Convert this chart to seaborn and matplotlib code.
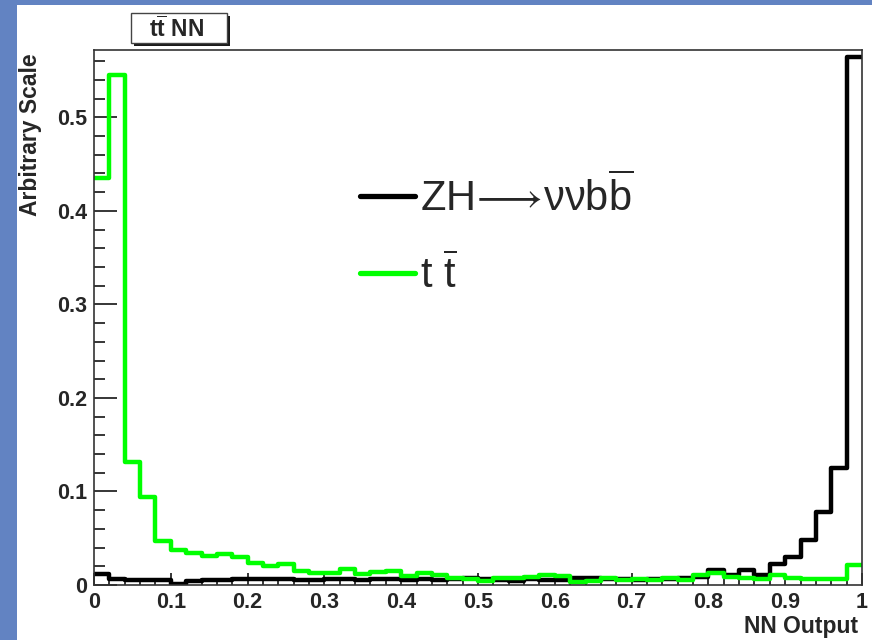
import numpy as np
import pandas as pd
import matplotlib
matplotlib.use("Agg")
import matplotlib.pyplot as plt
import seaborn as sns
from matplotlib.patches import Rectangle
from matplotlib.lines import Line2D
from matplotlib.ticker import MultipleLocator

# ---------------- data ----------------
n_bins = 50
x_range = (0.0, 1.0)

zh_values = [0.012, 0.006, 0.005, 0.005, 0.005, 0.001, 0.004, 0.005, 0.005, 0.006,
             0.006, 0.006, 0.006, 0.005, 0.005, 0.006, 0.006, 0.005, 0.006, 0.006,
             0.005, 0.006, 0.005, 0.006, 0.007, 0.006, 0.005, 0.004, 0.006, 0.005,
             0.005, 0.007, 0.007, 0.006, 0.006, 0.005, 0.006, 0.006, 0.008, 0.009,
             0.016, 0.011, 0.016, 0.011, 0.022, 0.030, 0.048, 0.078, 0.125, 0.565]

tt_values = [0.435, 0.545, 0.131, 0.094, 0.047, 0.037, 0.034, 0.031, 0.033, 0.030,
             0.024, 0.020, 0.022, 0.015, 0.013, 0.013, 0.017, 0.012, 0.014, 0.015,
             0.010, 0.013, 0.011, 0.008, 0.006, 0.004, 0.007, 0.008, 0.009, 0.011,
             0.010, 0.003, 0.004, 0.008, 0.005, 0.006, 0.005, 0.007, 0.005, 0.011,
             0.013, 0.009, 0.008, 0.006, 0.011, 0.008, 0.006, 0.006, 0.006, 0.021]

series_labels = [r"$\mathrm{ZH}\!\longrightarrow\!\nu\nu\mathrm{b}\overline{\mathrm{b}}$",
                 r"$\mathrm{t}\ \overline{\mathrm{t}}$"]
series_colors = ["#000000", "#00ff00"]

x_ticks = [0.0, 0.1, 0.2, 0.3, 0.4, 0.5, 0.6, 0.7, 0.8, 0.9, 1.0]
x_tick_labels = ["0", "0.1", "0.2", "0.3", "0.4", "0.5", "0.6", "0.7", "0.8", "0.9", "1"]
y_ticks = [0.0, 0.1, 0.2, 0.3, 0.4, 0.5]
y_tick_labels = ["0", "0.1", "0.2", "0.3", "0.4", "0.5"]

title_text = r"$\mathbf{t\overline{t}}$ $\mathbf{NN}$"
x_title = "NN Output"
y_title = "Arbitrary Scale"

# ---------------- style ----------------
sns.set_theme(style="ticks")
plt.rcParams["font.family"] = ["Liberation Sans", "DejaVu Sans"]
plt.rcParams["mathtext.fontset"] = "custom"
plt.rcParams["mathtext.rm"] = "Liberation Sans"
plt.rcParams["mathtext.it"] = "Liberation Sans"
plt.rcParams["mathtext.bf"] = "Liberation Sans:bold"

W, H = 872, 640
fig = plt.figure(figsize=(W / 100, H / 100), dpi=100)
fig.patch.set_facecolor("#6283c2")

# white slide area
fig.add_artist(Rectangle((17 / W, 0), 1 - 17 / W, 1 - 5 / H, transform=fig.transFigure,
                         facecolor="white", edgecolor="none", zorder=0))

ax = fig.add_axes([94 / W, 1 - 585 / H, (862 - 94) / W, (585 - 50) / H])
ax.set_facecolor("white")

width = (x_range[1] - x_range[0]) / n_bins
centers = x_range[0] + width * (np.arange(n_bins) + 0.5)
df = pd.DataFrame({
    "x": np.concatenate([centers, centers]),
    "w": np.concatenate([zh_values, tt_values]),
    "sample": ["ZH"] * n_bins + ["tt"] * n_bins,
})

for name, color in zip(["ZH", "tt"], series_colors):
    sns.histplot(data=df[df["sample"] == name], x="x", weights="w", bins=n_bins,
                 binrange=x_range, element="step", fill=False, color=color,
                 linewidth=3.2, ax=ax)

ax.set_xlim(0, 1)
ax.set_ylim(0, 0.572)
ax.set_xlabel("")
ax.set_ylabel("")

ax.set_xticks(x_ticks, labels=x_tick_labels)
ax.set_yticks(y_ticks, labels=y_tick_labels)
ax.xaxis.set_minor_locator(MultipleLocator(0.02))
ax.yaxis.set_minor_locator(MultipleLocator(0.02))
for lab in ax.get_xticklabels() + ax.get_yticklabels():
    lab.set_fontweight("bold")
    lab.set_fontsize(15.5)
ax.tick_params(axis="y", which="major", direction="in", length=16.5, width=1.1, pad=5, color="black")
ax.tick_params(axis="y", which="minor", direction="in", length=8, width=1.1, color="black")
ax.tick_params(axis="x", which="major", direction="in", length=8.5, width=1.1, pad=5, color="black")
ax.tick_params(axis="x", which="minor", direction="in", length=4.3, width=1.1, color="black")
for s in ax.spines.values():
    s.set_visible(True)
    s.set_color("#333333")
    s.set_linewidth(1.2)

# legend
handles = [Line2D([], [], color=c, linewidth=3.8) for c in series_colors]
leg = ax.legend(handles, series_labels, loc="upper left",
                bbox_to_anchor=(360 / W, 1 - 174 / H), bbox_transform=fig.transFigure,
                frameon=False, fontsize=30, handlelength=1.32, handletextpad=0.12,
                borderpad=0, borderaxespad=0, labelspacing=0.82)

# axis titles
fig.text(31 / W, 1 - 53 / H, y_title, rotation=90, ha="center", va="top",
         fontsize=16.5, fontweight="bold")
fig.text(858 / W, 1 - 626 / H, x_title, ha="right", va="center",
         fontsize=16.5, fontweight="bold")

# title box with shadow
fig.add_artist(Rectangle((134 / W, 1 - 46 / H), 96 / W, 30 / H, transform=fig.transFigure,
                         facecolor="#1a1a1a", edgecolor="none", zorder=5))
fig.add_artist(Rectangle((131 / W, 1 - 43 / H), 96 / W, 30 / H, transform=fig.transFigure,
                         facecolor="white", edgecolor="#444444", linewidth=1.0, zorder=6))
fig.text(176 / W, 1 - 29 / H, title_text, ha="center", va="center", fontsize=16.5,
         zorder=7)

fig.savefig("out.png", dpi=100, facecolor=fig.get_facecolor())
